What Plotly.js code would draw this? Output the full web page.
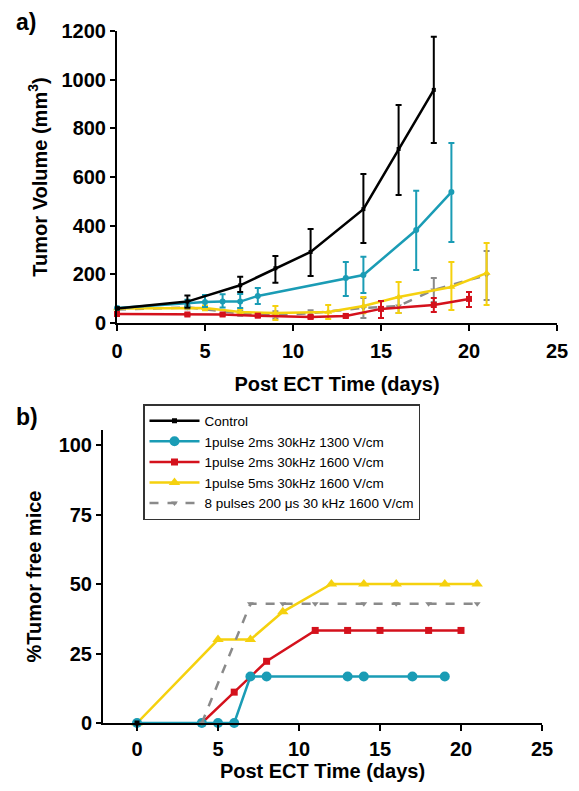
<!DOCTYPE html>
<html>
<head>
<meta charset="utf-8">
<script src="https://cdn.plot.ly/plotly-3.0.1.min.js"></script>
<style>html,body{margin:0;padding:0;background:#fff;}#chart{width:579px;height:791px;}</style>
</head>
<body>
<div id="chart"></div>
<script>
// ---------- Panel a: tumor volume (mm3), mean with error bars ----------
const ctrlDays = [0, 4, 7, 9, 11, 14, 16, 18];
const ctrlVol = [60, 88, 155, 225, 292, 468, 715, 958];
const ctrlErrUp = [5, 25, 35, 50, 94, 144, 181, 218];
const ctrlErrDn = [5, 25, 28, 60, 99, 139, 189, 218];

const blueDays = [0, 4, 5, 6, 7, 8, 13, 14, 17, 19];
const blueVol = [62, 82, 86, 88, 88, 111, 185, 197, 382, 538];
const blueErrUp = [5, 14, 29, 30, 31, 33, 66, 75, 161, 202];
const blueErrDn = [5, 14, 20, 24, 26, 33, 74, 74, 164, 205];

const redDays = [0, 4, 6, 8, 11, 13, 15, 18, 20];
const redVol = [37, 35, 35, 30, 25, 29, 58, 74, 99];
const redErrUp = [4, 4, 4, 5, 5, 6, 32, 29, 28];
const redErrDn = [4, 4, 4, 5, 5, 6, 37, 29, 33];

const yelDays = [0, 5, 7, 9, 12, 14, 16, 19, 21];
const yelVol = [60, 62, 45, 41, 45, 70, 107, 148, 205];
const yelErrUp = [5, 10, 12, 29, 29, 37, 61, 103, 124];
const yelErrDn = [5, 10, 10, 29, 29, 30, 66, 95, 131];

const grayDays = [0, 4, 7, 9, 11, 14, 16, 18, 21];
const grayVol = [55, 64, 40, 33, 40, 62, 70, 136, 197];
const grayErrUp = [5, 8, 10, 15, 12, 41, 37, 49, 99];
const grayErrDn = [5, 8, 10, 15, 12, 41, 29, 50, 102];

// ---------- Panel b: % tumor free mice ----------
const bCtrlDays = [0];
const bCtrlPct = [0];
const bBlueDays = [0, 4, 5, 6, 7, 8, 13, 14, 17, 19];
const bBluePct = [0, 0, 0, 0, 16.7, 16.7, 16.7, 16.7, 16.7, 16.7];
const bRedDays = [4, 6, 8, 11, 13, 15, 18, 20];
const bRedPct = [0, 11.1, 22.2, 33.3, 33.3, 33.3, 33.3, 33.3];
const bYelDays = [0, 5, 7, 9, 12, 14, 16, 19, 21];
const bYelPct = [0, 30, 30, 40, 50, 50, 50, 50, 50];
const bGrayDays = [4, 7, 9, 11, 14, 16, 18, 21];
const bGrayPct = [0, 42.9, 42.9, 42.9, 42.9, 42.9, 42.9, 42.9];

const seriesNames = [
  'Control',
  '1pulse 2ms 30kHz 1300 V/cm',
  '1pulse 2ms 30kHz 1600 V/cm',
  '1pulse 5ms 30kHz 1600 V/cm',
  '8 pulses 200 μs 30 kHz 1600 V/cm'
];

const C_BLACK = '#000000', C_BLUE = '#1a9cb5', C_RED = '#d4111c', C_YEL = '#f5d10e', C_GRAY = '#8a8a8a';
const FONT = 'Liberation Sans, Arial, sans-serif';

function errTrace(x, y, up, dn, color, symbol, size, dash, name) {
  return {
    type: 'scatter', mode: 'lines+markers', x: x, y: y, name: name,
    xaxis: 'x', yaxis: 'y', showlegend: false, cliponaxis: false,
    line: {color: color, width: 2.5, dash: dash || 'solid'},
    marker: {color: color, symbol: symbol, size: size},
    error_y: {type: 'data', symmetric: false, array: up, arrayminus: dn,
              color: color, thickness: 2, width: 3}
  };
}
function pctTrace(x, y, color, symbol, size, dash, name, rank) {
  return {
    type: 'scatter', mode: 'lines+markers', x: x, y: y, name: name,
    xaxis: 'x2', yaxis: 'y2', showlegend: true, legendrank: rank, cliponaxis: false,
    line: {color: color, width: 2.5, dash: dash || 'solid'},
    marker: {color: color, symbol: symbol, size: size}
  };
}

const data = [
  errTrace(grayDays, grayVol, grayErrUp, grayErrDn, C_GRAY, 'triangle-down', 6, 'dash', seriesNames[4]),
  errTrace(yelDays, yelVol, yelErrUp, yelErrDn, C_YEL, 'triangle-up', 7, 'solid', seriesNames[3]),
  errTrace(redDays, redVol, redErrUp, redErrDn, C_RED, 'square', 6, 'solid', seriesNames[2]),
  errTrace(blueDays, blueVol, blueErrUp, blueErrDn, C_BLUE, 'circle', 6, 'solid', seriesNames[1]),
  errTrace(ctrlDays, ctrlVol, ctrlErrUp, ctrlErrDn, C_BLACK, 'square', 4, 'solid', seriesNames[0]),

  pctTrace(bRedDays, bRedPct, C_RED, 'square', 7, 'solid', seriesNames[2], 3),
  pctTrace(bYelDays, bYelPct, C_YEL, 'triangle-up', 10, 'solid', seriesNames[3], 4),
  pctTrace(bBlueDays, bBluePct, C_BLUE, 'circle', 10, 'solid', seriesNames[1], 2),
  pctTrace(bGrayDays, bGrayPct, C_GRAY, 'triangle-down', 6, 'dash', seriesNames[4], 5),
  pctTrace(bCtrlDays, bCtrlPct, C_BLACK, 'square', 5, 'solid', seriesNames[0], 1)
];

const W = 579, H = 791;
const tickFont = {family: FONT, size: 20, color: '#000', weight: 'bold'};
const titleFont = {family: FONT, size: 20, color: '#000', weight: 'bold'};
const axisCommon = {
  showgrid: false, zeroline: false, showline: true, linecolor: '#000', linewidth: 2,
  ticks: 'outside', ticklen: 6, tickwidth: 2, tickcolor: '#000', tickfont: tickFont
};

const layout = {
  width: W, height: H,
  margin: {l: 0, r: 0, t: 0, b: 0},
  paper_bgcolor: '#fff', plot_bgcolor: 'rgba(0,0,0,0)',
  font: {family: FONT, color: '#000'},
  xaxis: Object.assign({}, axisCommon, {
    domain: [117 / W, 557 / W], anchor: 'y', range: [0, 25],
    tickvals: [0, 5, 10, 15, 20, 25], ticklabelstandoff: 3,
    title: {text: 'Post ECT Time (days)', font: titleFont, standoff: 16}
  }),
  yaxis: Object.assign({}, axisCommon, {
    domain: [1 - 323 / H, 1 - 31 / H], anchor: 'x', range: [0, 1200],
    tickvals: [0, 200, 400, 600, 800, 1000, 1200], ticklen: 5,
    title: {text: 'Tumor Volume (mm<sup>3</sup>)', font: titleFont, standoff: 9}
  }),
  xaxis2: Object.assign({}, axisCommon, {
    domain: [103 / W, 542 / W], anchor: 'y2', range: [-2.1, 25],
    tickvals: [0, 5, 10, 15, 20, 25], ticklabelstandoff: 1,
    title: {text: 'Post ECT Time (days)', font: titleFont, standoff: 5}
  }),
  yaxis2: Object.assign({}, axisCommon, {
    domain: [1 - 723 / H, 1 - 430 / H], anchor: 'x2', range: [0, 105.4],
    tickvals: [0, 25, 50, 75, 100], ticklen: 5,
    title: {text: '%Tumor free mice', font: titleFont, standoff: 12}
  }),
  legend: {
    x: 143 / W, y: 1 - 404 / H, xanchor: 'left', yanchor: 'top',
    bordercolor: '#333', borderwidth: 1.5, bgcolor: '#fff',
    font: {family: FONT, size: 13.5, color: '#000'}, tracegroupgap: 0,
    traceorder: 'normal', itemwidth: 50
  },
  annotations: [
    {text: 'a)', x: 14 / W, y: 1 - 22 / H, xref: 'paper', yref: 'paper', xanchor: 'left', yanchor: 'middle',
     showarrow: false, font: {family: FONT, size: 23, color: '#000', weight: 'bold'}},
    {text: 'b)', x: 14 / W, y: 1 - 417 / H, xref: 'paper', yref: 'paper', xanchor: 'left', yanchor: 'middle',
     showarrow: false, font: {family: FONT, size: 23, color: '#000', weight: 'bold'}}
  ]
};

Plotly.newPlot('chart', data, layout, {displayModeBar: false, staticPlot: true});
</script>
</body>
</html>
